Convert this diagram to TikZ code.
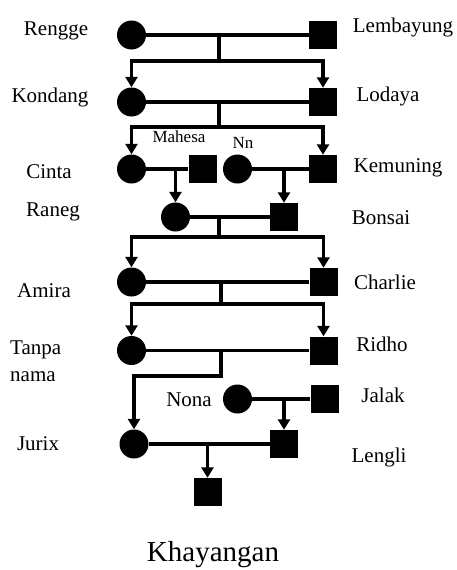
\documentclass[tikz,border=0pt]{standalone}
\usepackage{fontspec}
\setmainfont{Liberation Serif}
\usetikzlibrary{arrows.meta}
\tikzset{
  fem/.style={circle, fill=black, minimum size=29pt, inner sep=0pt},
  male/.style={rectangle, fill=black, minimum size=28pt, inner sep=0pt},
  lbl/.style={font=\fontsize{21}{27}\selectfont, inner sep=0pt},
  slbl/.style={font=\fontsize{17}{20}\selectfont, inner sep=0pt},
  tlbl/.style={font=\fontsize{29}{34}\selectfont, inner sep=0pt},
  link/.style={line width=3.2pt},
  desc/.style={line width=3.2pt, -{Triangle[length=10.5pt,width=12pt]}},
}
\begin{document}
\begin{tikzpicture}[x=1pt,y=-1pt]
\useasboundingbox (0,0) rectangle (457,570);
% people
\node[fem]  (rengge)    at (131.5,35) {};
\node[male] (lembayung) at (323,35) {};
\node[fem]  (kondang)   at (131.5,102) {};
\node[male] (lodaya)    at (323,102) {};
\node[fem]  (cinta)     at (131.5,169) {};
\node[male] (mahesa)    at (202.5,169) {};
\node[fem]  (nn)        at (237.5,169) {};
\node[male] (kemuning)  at (323,169) {};
\node[fem]  (raneg)     at (175.5,217) {};
\node[male] (bonsai)    at (284,217) {};
\node[fem]  (amira)     at (131.5,282) {};
\node[male] (charlie)   at (323.5,282) {};
\node[fem]  (tanpa)     at (131.5,350.5) {};
\node[male] (ridho)     at (323.5,350.5) {};
\node[fem]  (nona)      at (237.5,399) {};
\node[male] (jalak)     at (324.5,399) {};
\node[fem]  (jurix)     at (134,444) {};
\node[male] (lengli)    at (284,444) {};
\node[male] (child)     at (207.5,492) {};
% labels
\node[lbl] (tRengge)    at (56,31)  {Rengge};
\node[lbl] (tLembayung) at (403,27) {Lembayung};
\node[lbl] (tKondang)   at (50,97)  {Kondang};
\node[lbl] (tLodaya)    at (388,96) {Lodaya};
\node[slbl] (tMahesa)   at (179,137) {Mahesa};
\node[slbl] (tNn)       at (243,143) {Nn};
\node[lbl] (tCinta)     at (49,172) {Cinta};
\node[lbl] (tKemuning)  at (398,168) {Kemuning};
\node[lbl] (tRaneg)     at (53,212) {Raneg};
\node[lbl] (tBonsai)    at (381,218) {Bonsai};
\node[lbl] (tAmira)     at (44,291) {Amira};
\node[lbl] (tCharlie)   at (385,282) {Charlie};
\node[lbl, align=left, anchor=west] (tTanpa) at (10,361) {Tanpa\\nama};
\node[lbl] (tRidho)     at (382,344) {Ridho};
\node[lbl] (tNona)      at (189,400) {Nona};
\node[lbl] (tJalak)     at (383,395) {Jalak};
\node[lbl] (tJurix)     at (38,444) {Jurix};
\node[lbl] (tLengli)    at (379,457) {Lengli};
\node[tlbl] (tKhay)     at (213,555) {Khayangan};
% junctions
\coordinate (m1) at (219,35);    \coordinate (b1) at (219,61);
\coordinate (m2) at (219,102);   \coordinate (b2) at (219,127);
\coordinate (m3a) at (175.5,169);
\coordinate (m3b) at (284,169);
\coordinate (m4) at (219,217);   \coordinate (b4) at (219,237);
\coordinate (m5) at (221,282);   \coordinate (b5) at (221,304);
\coordinate (m6) at (221,350.5); \coordinate (b6) at (221,376);
\coordinate (m7) at (284,399);
\coordinate (m8) at (207.5,444);
% couples
\draw[link] (rengge) -- (lembayung);
\draw[link] (kondang) -- (lodaya);
\draw[link] (cinta) -- (mahesa);
\draw[link] (nn) -- (kemuning);
\draw[link] (raneg) -- (bonsai);
\draw[link] (amira) -- (charlie);
\draw[link] (tanpa) -- (ridho);
\draw[link] (nona) -- (jalak);
\draw[link] (jurix) -- (lengli);
% descent
\draw[link] (m1) -- (b1);
\draw[desc] (b1) -| (kondang);
\draw[desc] (b1) -| (lodaya);
\draw[link] (m2) -- (b2);
\draw[desc] (b2) -| (cinta);
\draw[desc] (b2) -| (kemuning);
\draw[desc] (m3a) -- (raneg);
\draw[desc] (m3b) -- (bonsai);
\draw[link] (m4) -- (b4);
\draw[desc] (b4) -| (amira);
\draw[desc] (b4) -| (charlie);
\draw[link] (m5) -- (b5);
\draw[desc] (b5) -| (tanpa);
\draw[desc] (b5) -| (ridho);
\draw[desc] (m6) -- (b6) -| (jurix);
\draw[desc] (m7) -- (lengli);
\draw[desc] (m8) -- (child);
\end{tikzpicture}
\end{document}
